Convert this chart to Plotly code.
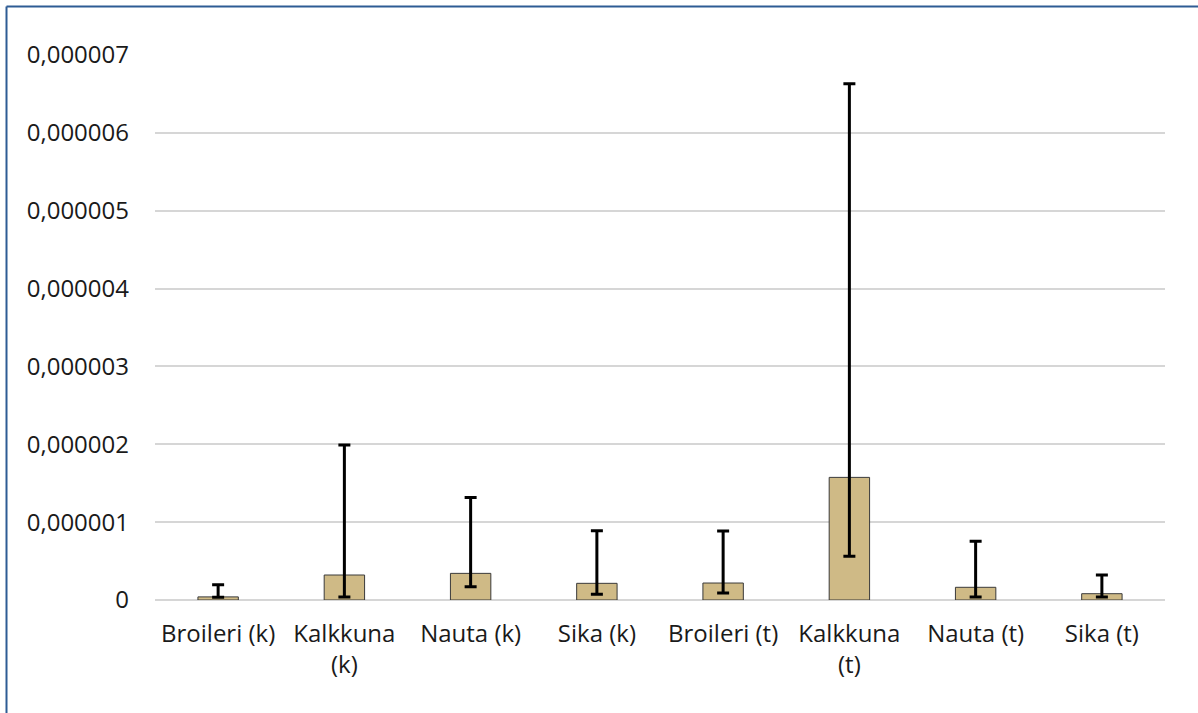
import plotly.graph_objects as go

categories = ["Broileri (k)", "Kalkkuna<br>(k)", "Nauta (k)", "Sika (k)",
              "Broileri (t)", "Kalkkuna<br>(t)", "Nauta (t)", "Sika (t)"]
values = [0.040e-6, 0.321e-6, 0.342e-6, 0.214e-6, 0.218e-6, 1.575e-6, 0.163e-6, 0.081e-6]
upper = [0.196e-6, 1.990e-6, 1.318e-6, 0.890e-6, 0.886e-6, 6.630e-6, 0.753e-6, 0.321e-6]
lower = [0.035e-6, 0.038e-6, 0.171e-6, 0.073e-6, 0.090e-6, 0.561e-6, 0.038e-6, 0.038e-6]
tick_vals = [0, 1e-6, 2e-6, 3e-6, 4e-6, 5e-6, 6e-6, 7e-6]
tick_text = ["0", "0,000001", "0,000002", "0,000003", "0,000004", "0,000005", "0,000006", "0,000007"]

err_plus = [u - v for u, v in zip(upper, values)]
err_minus = [v - l for v, l in zip(values, lower)]

fig = go.Figure()
fig.add_trace(go.Bar(
    x=categories, y=values,
    marker=dict(color="#CFBA86", line=dict(color="#3a3a3a", width=1)),
    error_y=dict(type="data", symmetric=False, array=err_plus, arrayminus=err_minus,
                 color="black", thickness=3, width=6),
    width=0.32,
))

L, R, T, B = 155, 33, 55, 113
PW, PH = 1198 - L - R, 713 - T - B
fig.update_layout(
    width=1198, height=713,
    margin=dict(l=L, r=R, t=T, b=B),
    paper_bgcolor="white", plot_bgcolor="white",
    font=dict(family="Open Sans", size=24, color="#1a1a1a"),
    showlegend=False,
    xaxis=dict(showgrid=False, showline=False, zeroline=False, ticks="",
               ticklabelstandoff=17),
    yaxis=dict(range=[0, 7e-6], tickvals=tick_vals, ticktext=tick_text,
               showgrid=True, gridcolor="#D6D6D6", gridwidth=1.5,
               zeroline=True, zerolinecolor="#D6D6D6", zerolinewidth=1.5,
               showline=False, ticks="", ticklabelstandoff=25),
    shapes=[
        dict(type="line", xref="paper", yref="paper", x0=-(L - 6.5) / PW, x1=1.1,
             y0=(713 - B - 6.5) / PH, y1=(713 - B - 6.5) / PH,
             line=dict(color="#2E5C94", width=2)),
        dict(type="line", xref="paper", yref="paper", x0=-(L - 6.5) / PW, x1=-(L - 6.5) / PW,
             y0=-0.3, y1=(713 - B - 6.5) / PH,
             line=dict(color="#2E5C94", width=2)),
    ],
)

fig.write_html("out.html", config={"displayModeBar": False},
               post_script="document.body.style.margin='0';document.body.style.overflow='hidden';")
